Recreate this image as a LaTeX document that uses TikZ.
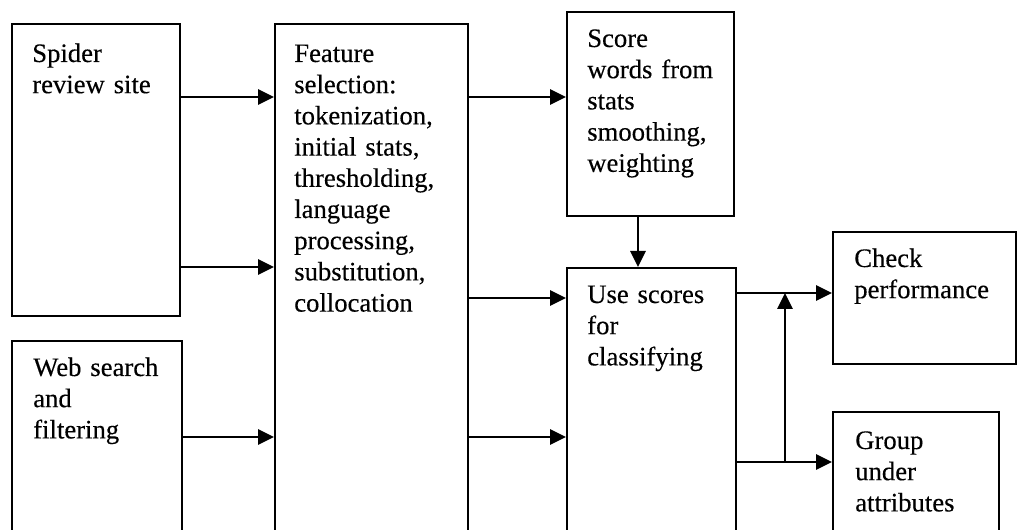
\documentclass[tikz,border=0pt]{standalone}
\usepackage{fontspec}
\setmainfont{Liberation Serif}
\usetikzlibrary{arrows.meta,fit}
\begin{document}
\begin{tikzpicture}[x=0.75pt,y=-0.75pt,
  box/.style={draw, line width=1.5pt, inner sep=0pt},
  txt/.style={anchor=base west, inner sep=0pt, align=left, text width=200pt,
              font=\fontsize{20}{23.4}\selectfont\addfontfeatures{FakeBold=0.3}},
  arr/.style={line width=1.5pt, -{Triangle[length=12pt,width=11.5pt]}}]
\useasboundingbox (0,0) rectangle (1017,530);
\clip (0,0) rectangle (1017,530);

% boxes (the lower ones run off the bottom edge)
\node[box, fit={(12,24) (180,316)}]  (spider) {};
\node[box, fit={(12,341) (182,545)}] (web) {};
\node[box, fit={(275,24) (468,545)}] (feat) {};
\node[box, fit={(567,12) (734,216)}] (score) {};
\node[box, fit={(567,268) (736,545)}] (use) {};
\node[box, fit={(833,232) (1016,364)}] (check) {};
\node[box, fit={(833,412) (999,545)}] (group) {};

% box texts
\node[txt] (spidert) at (32,62)  {Spider\\review site};
\node[txt] (webt)    at (33,376) {Web search\\and\\filtering};
\node[txt] (featt)   at (294,62) {Feature\\selection:\\tokenization,\\initial stats,\\thresholding,\\language\\processing,\\substitution,\\collocation};
\node[txt] (scoret)  at (587,47) {Score\\words from\\stats\\smoothing,\\weighting};
\node[txt] (uset)    at (587,303) {Use scores\\for\\classifying};
\node[txt] (checkt)  at (854,267) {Check\\performance};
\node[txt] (groupt)  at (855,449) {Group\\under\\attributes};

% connectors
\draw[arr] (spider.east |- 0,97)  -- (feat.west |- 0,97);
\draw[arr] (spider.east |- 0,267) -- (feat.west |- 0,267);
\draw[arr] (web.east |- 0,437)    -- (feat.west |- 0,437);
\draw[arr] (feat.east |- 0,97)    -- (score.west |- 0,97);
\draw[arr] (feat.east |- 0,298)   -- (use.west |- 0,298);
\draw[arr] (feat.east |- 0,437)   -- (use.west |- 0,437);
\draw[arr] (score.south -| 638,0) -- (use.north -| 638,0);
\draw[arr] (use.east |- 0,293)    -- (check.west |- 0,293);
\draw[arr] (use.east |- 0,462)    -- (group.west |- 0,462);
\coordinate (jlow) at (785,462);
\coordinate (jup)  at (785,293);
\draw[arr] (jlow) -- (jup);
\end{tikzpicture}
\end{document}
